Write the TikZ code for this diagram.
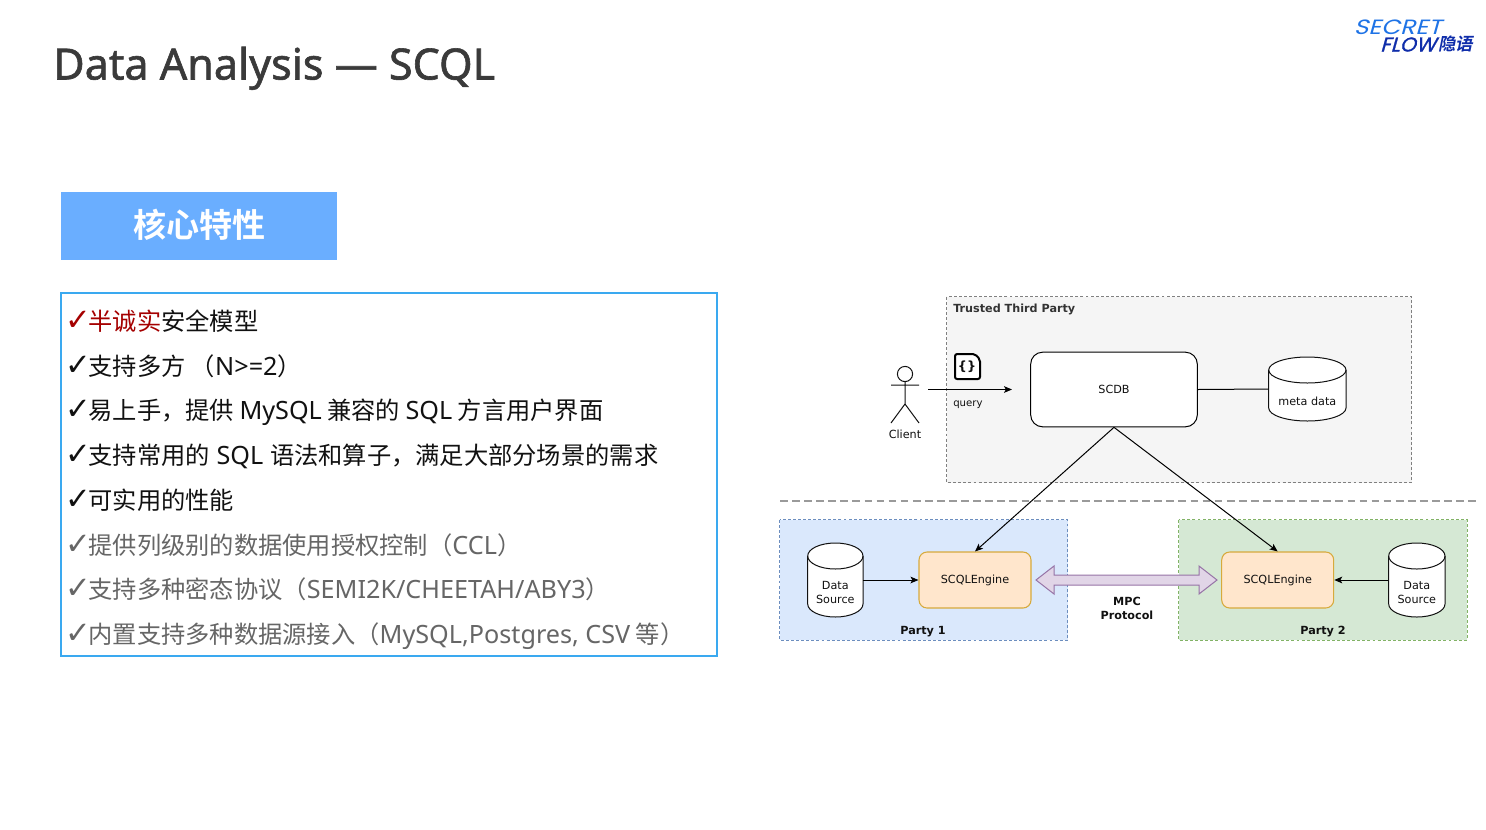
\documentclass[tikz,border=0pt]{standalone}
\usepackage{fontspec}
\setmainfont{Noto Sans CJK SC}[BoldFont={Noto Sans CJK SC Bold}]
\newfontfamily\dv{DejaVu Sans}
\newfontfamily\latn{Noto Sans}
\newfontfamily\titlefont{Noto Sans}[FakeBold=1.4]
\newfontfamily\logothin{Poppins}[FakeSlant=0.28,FakeStretch=1.2]
\newfontfamily\logobold{Poppins}[FakeSlant=0.28,FakeStretch=1.03,FakeBold=1.2]
\newfontfamily\logocjk{Noto Sans CJK SC Bold}[FakeSlant=0.2]
\usetikzlibrary{arrows.meta,calc}
\definecolor{ink}{HTML}{111111}
\definecolor{titlec}{HTML}{3A3A3A}
\definecolor{grayt}{HTML}{666666}
\definecolor{redt}{HTML}{A50000}
\definecolor{hdr}{HTML}{6AAEFF}
\definecolor{listb}{HTML}{3AA9F0}
\definecolor{logoblue}{HTML}{1E73E6}
\definecolor{logodark}{HTML}{0F2DAA}
\definecolor{ttpd}{HTML}{808080}
\definecolor{ttpf}{HTML}{F5F5F5}
\definecolor{pad}{HTML}{6C8EBF}
\definecolor{paf}{HTML}{DAE8FC}
\definecolor{pbd}{HTML}{82B366}
\definecolor{pbf}{HTML}{D5E8D4}
\definecolor{sepc}{HTML}{9A9A9A}
\definecolor{engd}{HTML}{D7AA3C}
\definecolor{engf}{HTML}{FFE6CC}
\definecolor{mpcd}{HTML}{9673A6}
\definecolor{mpcf}{HTML}{E1D5E7}
\definecolor{ttpt}{HTML}{333333}
\newcommand\chk{\makebox[15.9pt][l]{\hspace*{-1.6pt}\raisebox{-0.3pt}{\dv\fontsize{23pt}{23pt}\selectfont ✓}}}
\newcommand\la[1]{{\latn\fontsize{18.9pt}{20pt}\selectfont #1}}
\tikzset{
 x=0.75pt,y=-0.75pt,
 item/.style={anchor=base west,inner sep=0pt,font=\fontsize{18.2pt}{20pt}\selectfont,text=ink},
 graytxt/.style={item,text=grayt},
 dia/.style={inner sep=0pt,align=center,font=\dv\fontsize{8.4pt}{10.5pt}\selectfont,text=ink},
 diab/.style={dia,font=\dv\bfseries\fontsize{8.4pt}{10.5pt}\selectfont},
 region/.style={draw=#1,dash pattern=on 2.2pt off 1.6pt,line width=.7pt},
 enginebox/.style={draw=engd,fill=engf,rounded corners=6pt,line width=.8pt,minimum width=84pt,minimum height=42pt,dia},
 link/.style={draw=black,line width=.75pt},
 arrowed/.style={link,-{Stealth[length=6pt,width=5pt,inset=1.4pt]}},
 logotext/.style={anchor=base west,inner sep=0pt},
}
\newcommand\cyl[6]{% x1,y1,x2,y2,name,text y
 \path[fill=white,draw=ink,line width=.75pt] (#1,#2+13) arc[x radius={(#3-#1)/2*0.75pt},y radius=9.75pt,start angle=180,end angle=0]
   -- (#3,#4-13) arc[x radius={(#3-#1)/2*0.75pt},y radius=9.75pt,start angle=0,end angle=-180] -- cycle;
 \draw[ink,line width=.75pt] (#1,#2+13) arc[x radius={(#3-#1)/2*0.75pt},y radius=9.75pt,start angle=180,end angle=360];
 \node[dia,minimum width={(#3-#1)*0.75pt},minimum height={(#4-#2)*0.75pt}] (#5) at ({(#1+#3)/2},{(#2+#4)/2}) {};
 \node[dia] (#5t) at ({(#1+#3)/2},{#6}) {\csname cyltext#5\endcsname};
}
\newcommand\cyltextdsa{Data\\Source}
\newcommand\cyltextdsb{Data\\Source}
\newcommand\cyltextmeta{meta data}
\begin{document}
\begin{tikzpicture}
\useasboundingbox (0,0) rectangle (1486,829);
\fill[white] (0,0) rectangle (1486,829);

% title and logo
\node[anchor=base west,inner sep=0pt,text=titlec,font=\titlefont\fontsize{32.3pt}{34pt}\selectfont] (title) at (53,79.5) {Data Analysis — SCQL};
\node[logotext,text=logoblue,font=\logothin\fontsize{15.5pt}{16pt}\selectfont] (logoa) at (1353.5,34.5) {SECRET};
\node[logotext,text=logodark,font=\logobold\fontsize{15pt}{16pt}\selectfont] (logob) at (1380,51.5) {FLOW};
\node[anchor=base west,inner sep=0pt,text=logodark,font=\logocjk\fontsize{13pt}{13pt}\selectfont] (logoc) at (1438,50) {隐语};

% header
\node[fill=hdr,minimum width=207pt,minimum height=51pt,inner sep=0pt] (hdr) at (199,226) {};
\node[text=white,inner sep=0pt,font=\bfseries\fontsize{24.8pt}{26pt}\selectfont] (hdrt) at (199.5,225) {核心特性};

% list
\node[draw=listb,line width=1.1pt,minimum width=492pt,minimum height=272pt,inner sep=0pt] (listbox) at (389,474.5) {};
\node[item] (l1) at (67,330) {{\color{redt}\chk 半诚实}安全模型};
\node[item] (l2) at (67,375) {\chk 支持多方 （\la{N>=2}）};
\node[item] (l3) at (67,419) {\chk 易上手，提供 \la{MySQL} 兼容的 \la{SQL} 方言用户界面};
\node[item] (l4) at (67,464) {\chk 支持常用的\hspace{1pt} \la{SQL} \hspace{1pt}语法和算子，满足大部分场景的需求};
\node[item] (l5) at (67,509) {\chk 可实用的性能};
\node[graytxt] (l6) at (67,554) {\chk 提供列级别的数据使用授权控制（\la{CCL}）};
\node[graytxt] (l7) at (67,598) {\chk 支持多种密态协议（\la{SEMI2K/CHEETAH/ABY3}）};
\node[graytxt] (l8) at (67,643) {\chk 内置支持多种数据源接入（\la{MySQL,Postgres, CSV} 等）};

% regions
\path[region=ttpd,fill=ttpf] (946.7,296.7) rectangle (1411.7,482.7);
\path[region=pad,fill=paf] (779.7,519.7) rectangle (1067.7,640);
\path[region=pbd,fill=pbf] (1178.7,519.7) rectangle (1467,640);
\node[diab,anchor=west,text=ttpt] (ttp) at (953,309.5) {Trusted Third Party};
\node[diab] (p1) at (923,632) {Party 1};
\node[diab] (p2) at (1323,632) {Party 2};

% separator
\coordinate (sepa) at (780,501);
\coordinate (sepb) at (1476,501);
\draw[draw=sepc,line width=1.2pt,dash pattern=on 5.8pt off 3.256pt] (sepa) -- (sepb);

% nodes
\node[draw=black,fill=white,rounded corners=9pt,line width=.75pt,minimum width=125pt,minimum height=56pt,dia] (scdb) at (1114,389.5) {SCDB};
\node[enginebox] (e1) at (975,580) {SCQLEngine};
\node[enginebox] (e2) at (1277.7,580) {SCQLEngine};
\cyl{1268.7}{357}{1346}{421}{meta}{401}
\cyl{807.7}{543}{863}{617}{dsa}{592}
\cyl{1388.7}{543}{1445}{617}{dsb}{592}

% actor
\node[draw=ink,circle,line width=.75pt,minimum size=11.4pt,inner sep=0pt] (head) at (905,374) {};
\coordinate (hip) at (905,404);
\draw[ink,line width=.75pt] (head.south) -- (hip) (891,385) -- (919,385) (891,423) -- (hip) -- (919,423);
\node[dia] (client) at (905,434.5) {Client};

% query
\coordinate (qa) at (928,389.5);
\coordinate (qb) at (1012,389.5);
\draw[arrowed] (qa) -- (qb);
\node[dia,anchor=west,font=\dv\fontsize{7.6pt}{9pt}\selectfont] (query) at (953,405) {query};

% file icon
\draw[black,line width=1.5pt,rounded corners=1.6pt,fill=white] (955,354) -- (975,354) -- (980,359.5) -- (980,379) -- (955,379) -- cycle;
\node[diab,font=\dv\bfseries\fontsize{9.5pt}{10pt}\selectfont] (brace) at (967,366.5) {\{\}};

% connectors
\draw[link] (scdb.east) -- (meta.west);
\draw[arrowed] (scdb.south) -- (e1.north);
\draw[arrowed] (scdb.south) -- (e2.north);
\draw[arrowed] (dsa.east) -- (e1.west);
\draw[arrowed] (dsb.west) -- (e2.east);

% MPC block arrow
\path[fill=mpcf,draw=mpcd,line width=.75pt]
 (1036,580) -- (1054,566) -- (1054,575) -- (1199,575) -- (1199,566) -- (1217,580) -- (1199,594) -- (1199,585) -- (1054,585) -- (1054,594) -- cycle;
\node[diab] (mpc) at (1127,608) {MPC\\Protocol};
\end{tikzpicture}
\end{document}
